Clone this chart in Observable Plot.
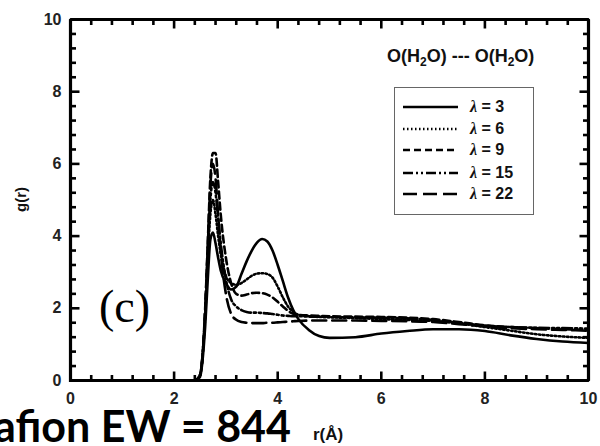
<!DOCTYPE html>
<html>
<head>
<meta charset="utf-8">
<script src="https://cdn.jsdelivr.net/npm/d3@7"></script>
<script src="https://cdn.jsdelivr.net/npm/@observablehq/plot@0.6"></script>
<style>
  body { margin: 0; background: #fff; }
  #wrap { position: relative; width: 600px; height: 446px; overflow: hidden; font-family: "Liberation Sans", Arial, sans-serif; }
  #wrap svg { display: block; }
  .ov { position: absolute; white-space: nowrap; }
  #big { font-family: Lato, "Open Sans", sans-serif; font-weight: 700; font-size: 43px; line-height: 38px; height: 38px; color: #000; }
  #xlab { font-weight: 700; font-size: 17px; color: #111; }
  #ylab { font-weight: 700; font-size: 15px; color: #111; transform: rotate(-90deg); transform-origin: center; }
  #panel { font-family: "Liberation Serif", "Times New Roman", serif; font-size: 46px; color: #000; line-height: 1; }
  #title { font-weight: 700; font-size: 18px; color: #111; }
  #title sub { font-size: 12px; vertical-align: -4px; line-height: 0; }
  #legend { border: 1.5px solid #666; background: #fff; }
  .lrow { position: absolute; left: 0; height: 20px; display: flex; align-items: center; }
  .lrow svg { display: block; }
  .lrow span { font-weight: 700; font-size: 16px; color: #111; margin-left: 6px; }
  .lam { font-family: "Liberation Serif", serif; font-style: italic; font-weight: 700; font-size: 19px; }
</style>
</head>
<body>
<div id="wrap"></div>
<script>
// ---- data ----
const r = [0, 2.4, 2.5, 2.6, 2.65, 2.7, 2.75, 2.8, 2.85, 2.9, 3.0, 3.1, 3.2, 3.3, 3.4, 3.5, 3.6, 3.7, 3.8, 3.9,
           4.0, 4.1, 4.2, 4.3, 4.4, 4.6, 4.8, 5.0, 5.5, 6.0, 6.5, 7.0, 7.5, 8.0, 8.5, 9.0, 9.5, 10.0];
const gLambda3  = [0, 0, 0.1, 1.5, 2.8, 3.9, 4.1, 3.8, 3.4, 3.05, 2.7, 2.52, 2.6, 2.95, 3.3, 3.6, 3.82, 3.92, 3.85, 3.6,
                   3.2, 2.75, 2.3, 1.95, 1.7, 1.4, 1.23, 1.18, 1.2, 1.3, 1.37, 1.42, 1.42, 1.37, 1.25, 1.15, 1.08, 1.04];
const gLambda6  = [0, 0, 0.15, 1.8, 3.4, 4.6, 5.0, 4.6, 4.0, 3.5, 2.9, 2.7, 2.65, 2.7, 2.8, 2.9, 2.96, 2.97, 2.95, 2.85,
                   2.6, 2.3, 2.05, 1.9, 1.82, 1.78, 1.76, 1.75, 1.73, 1.7, 1.68, 1.65, 1.58, 1.48, 1.38, 1.28, 1.22, 1.18];
const gLambda9  = [0, 0, 0.15, 2.0, 3.8, 5.6, 6.3, 6.3, 5.5, 4.6, 3.4, 2.7, 2.4, 2.35, 2.38, 2.42, 2.43, 2.42, 2.38, 2.3,
                   2.18, 2.05, 1.93, 1.85, 1.82, 1.8, 1.79, 1.78, 1.77, 1.76, 1.74, 1.7, 1.62, 1.53, 1.48, 1.45, 1.42, 1.4];
const gLambda15 = [0, 0, 0.15, 1.9, 3.6, 5.0, 5.5, 5.2, 4.5, 3.8, 2.8, 2.25, 2.05, 1.95, 1.9, 1.88, 1.88, 1.87, 1.86, 1.84,
                   1.82, 1.8, 1.79, 1.78, 1.78, 1.77, 1.77, 1.76, 1.75, 1.74, 1.72, 1.68, 1.6, 1.52, 1.48, 1.46, 1.45, 1.44];
const gLambda22 = [0, 0, 0.15, 1.9, 3.7, 5.4, 6.0, 5.6, 4.6, 3.6, 2.4, 1.85, 1.68, 1.62, 1.6, 1.59, 1.59, 1.59, 1.6, 1.6,
                   1.61, 1.62, 1.63, 1.64, 1.65, 1.66, 1.66, 1.66, 1.66, 1.65, 1.64, 1.62, 1.56, 1.5, 1.45, 1.42, 1.4, 1.38];
const lambdas = ["3", "6", "9", "15", "22"];
const seriesValues = [gLambda3, gLambda6, gLambda9, gLambda15, gLambda22];
const majorTicks = [0, 2, 4, 6, 8, 10];
const minorTicks = [0.4, 0.8, 1.2, 1.6, 2.4, 2.8, 3.2, 3.6, 4.4, 4.8, 5.2, 5.6, 6.4, 6.8, 7.2, 7.6, 8.4, 8.8, 9.2, 9.6];

// ---- styles ----
const dashes = [null, "1.5,2.5", "7,4", "10,3,2,3,2,3", "14,6"];
const W = 600, H = 446;
const M = {left: 70, right: 12, top: 19, bottom: 66};
const fw = W - M.left - M.right, fh = H - M.top - M.bottom;
const majLen = 9, minLen = 5.5;
const tickW = 2.6;
const xu = l => l * 10 / fw, yu = l => l * 10 / fh;

const rows = seriesValues.map((vals) => r.map((x, j) => ({r: x, g: vals[j]})));

const lineMarks = rows.map((d, i) => Plot.line(d, {
  x: "r", y: "g", stroke: "#000", strokeWidth: 2.6,
  strokeDasharray: dashes[i] || undefined, curve: "monotone-x"
}));

// ticks as line marks (two-point segments per tick) so they render exactly like the curves
const tickSegs = [];
[[majorTicks, majLen], [minorTicks, minLen]].forEach(([t, len]) => {
  t.forEach(v => {
    tickSegs.push([{x: v, y: 0}, {x: v, y: yu(len)}]);
    tickSegs.push([{x: v, y: 10}, {x: v, y: 10 - yu(len)}]);
    tickSegs.push([{x: 0, y: v}, {x: xu(len), y: v}]);
    tickSegs.push([{x: 10, y: v}, {x: 10 - xu(len), y: v}]);
  });
});
const tickData = tickSegs.flatMap((s, k) => s.map(p => ({...p, k})));

const edges = [{x: 0, y: 0, k: 0}, {x: 10, y: 0, k: 0}, {x: 10, y: 10, k: 0}, {x: 0, y: 10, k: 0}, {x: 0, y: 0, k: 0}];

const chart = Plot.plot({
  width: W, height: H,
  marginLeft: M.left, marginRight: M.right, marginTop: M.top, marginBottom: M.bottom,
  style: {fontFamily: "'Liberation Sans', Arial, sans-serif", background: "#fff"},
  x: {domain: [0, 10], axis: null},
  y: {domain: [0, 10], axis: null},
  marks: [
    Plot.text(majorTicks, {x: d => d, text: d => String(d), frameAnchor: "bottom", lineAnchor: "top", dy: 12,
      fontWeight: "bold", fontSize: 16, fill: "#222"}),
    Plot.text(majorTicks, {y: d => d, text: d => String(d), frameAnchor: "left", textAnchor: "end", dx: -9,
      fontWeight: "bold", fontSize: 16, fill: "#222"}),
    ...lineMarks,
    Plot.line(tickData, {x: "x", y: "y", z: "k", stroke: "#000", strokeWidth: tickW, strokeLinecap: "butt"}),
    Plot.line(edges, {x: "x", y: "y", stroke: "#000", strokeWidth: 3.2, strokeLinejoin: "miter", strokeLinecap: "square"})
  ]
});

const wrap = document.getElementById("wrap");
wrap.appendChild(chart);

function ov(id, html, css) {
  const d = document.createElement("div");
  d.className = "ov"; d.id = id; d.innerHTML = html;
  Object.assign(d.style, css);
  wrap.appendChild(d);
  return d;
}

ov("title", "O(H<sub>2</sub>O) --- O(H<sub>2</sub>O)", {left: "387px", top: "46px"});
ov("panel", "(c)", {left: "99px", top: "284px"});
ov("ylab", "g(r)", {left: "8px", top: "191px"});
ov("xlab", "r(Å)", {left: "313px", top: "425px"});
ov("big", "Nafion EW = 844", {right: "309px", top: "407px"});

const legend = ov("legend", "", {left: "394px", top: "87px", width: "138px", height: "126px"});
const rowTops = [9, 31, 52, 75, 96];
lambdas.forEach((lab, i) => {
  const row = document.createElement("div");
  row.className = "lrow";
  row.style.top = rowTops[i] + "px";
  row.style.left = "8px";
  const dash = dashes[i] ? ` stroke-dasharray="${dashes[i]}"` : "";
  row.innerHTML = `<svg width="55" height="20"><line x1="0" x2="55" y1="10" y2="10" stroke="#000" stroke-width="2.6"${dash}/></svg>` +
    `<span><span class="lam">λ</span> = ${lab}</span>`;
  legend.appendChild(row);
});
</script>
</body>
</html>
